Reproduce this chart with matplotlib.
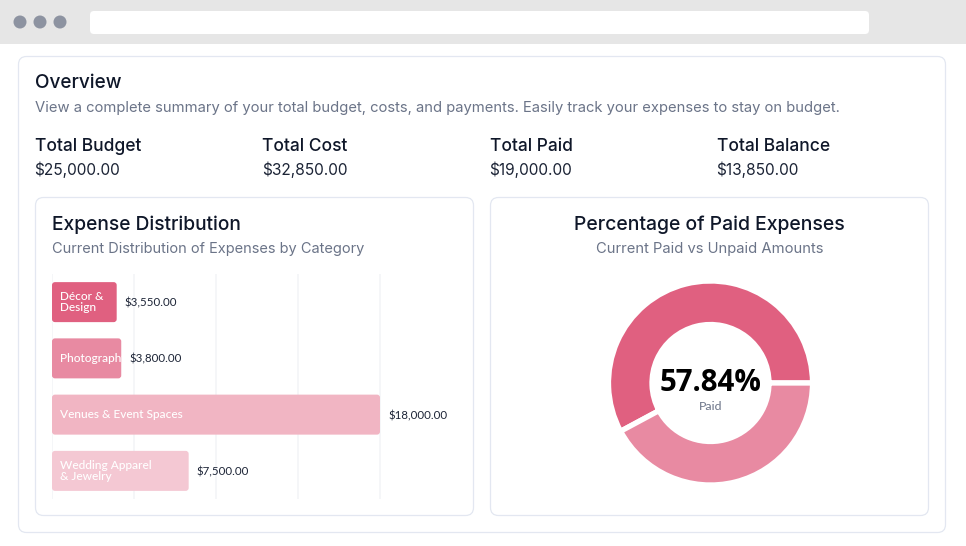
import matplotlib
matplotlib.use("Agg")
import matplotlib.pyplot as plt
from matplotlib.patches import FancyBboxPatch, Circle, Rectangle

plt.rcParams['font.family'] = ['Inter', 'DejaVu Sans']

# data
categories = ['Décor &\nDesign', 'Photography', 'Venues & Event Spaces', 'Wedding Apparel\n& Jewelry']
amounts = [3550, 3800, 18000, 7500]
amount_labels = ['$3,550.00', '$3,800.00', '$18,000.00', '$7,500.00']
bar_colors = ['#e06080', '#e88aa2', '#f1b5c3', '#f4c8d3']
grid_ticks = [0, 4500, 9000, 13500, 18000]

stat_names = ['Total Budget', 'Total Cost', 'Total Paid', 'Total Balance']
stat_values = ['$25,000.00', '$32,850.00', '$19,000.00', '$13,850.00']
stat_x = [35, 262.5, 490, 717]

donut_values = [19000, 13850]
donut_colors = ['#e06080', '#e88aa2']

W, H = 966, 546
DARK = '#0f1729'
GREY = '#6b7488'
BORDER = '#e3e7f1'

fig = plt.figure(figsize=(W / 100, H / 100), dpi=100)
bg = fig.add_axes([0, 0, 1, 1])
bg.set_xlim(0, W)
bg.set_ylim(H, 0)
bg.axis('off')


def card(x0, y0, x1, y1, r=8, fc='white', ec=BORDER, lw=0.9):
    p = FancyBboxPatch((x0, y0), x1 - x0, y1 - y0, boxstyle='round,pad=0,rounding_size=%g' % r,
                       fc=fc, ec=ec, lw=lw)
    bg.add_patch(p)


def px(size):
    return size * 0.72


# browser chrome
bg.add_patch(Rectangle((0, 0), W, 43.5, fc='#e6e6e6', ec='none'))
for cx in [20, 40, 60]:
    bg.add_patch(Circle((cx, 22), 6.5, fc='#8d93a1', ec='none'))
card(90, 11, 869, 34, r=4, ec='none')

card(18.5, 56.5, 945.5, 532.5)
card(35.5, 197.5, 473.5, 515.5)
card(490.5, 197.5, 928.5, 515.5)

bg.text(35, 83.5, 'Overview', fontsize=px(19), color=DARK, va='center', fontweight='medium')
bg.text(35, 108, 'View a complete summary of your total budget, costs, and payments. Easily track your expenses to stay on budget.',
        fontsize=px(14.8), color=GREY, va='center')
for x, name, val in zip(stat_x, stat_names, stat_values):
    bg.text(x, 146.5, name, fontsize=px(17.4), color=DARK, va='center', fontweight='medium')
    bg.text(x - 0.7, 169.5, val, fontsize=px(15.5), color='#1c2436', va='center')

bg.text(52, 224.5, 'Expense Distribution', fontsize=px(19.2), color=DARK, va='center', fontweight='medium')
bg.text(52, 249, 'Current Distribution of Expenses by Category', fontsize=px(14.6), color=GREY, va='center')
bg.text(709.5, 224.5, 'Percentage of Paid Expenses', fontsize=px(19.4), color=DARK, va='center', ha='center', fontweight='medium')
bg.text(709.5, 249, 'Current Paid vs Unpaid Amounts', fontsize=px(14.8), color=GREY, va='center', ha='center')

# bar chart, axes box spans 52..462 px across, 274..499 px down
ax = fig.add_axes([52 / W, 1 - 499 / H, 410 / W, 225 / H])
ax.set_xlim(0, 22500)
ax.set_ylim(3.5, -0.5)
ax.axis('off')
for t in grid_ticks:
    ax.plot([t, t], [-0.5, 3.5], color='#f5f6f8', lw=1.4, zorder=1)

xscale = 410 / 22500
yscale = 225 / 4
bar_h = 40 / yscale
for i, (cat, v, lab, c) in enumerate(zip(categories, amounts, amount_labels, bar_colors)):
    rect = FancyBboxPatch((0, i - bar_h / 2), v, bar_h,
                          boxstyle='round,pad=0,rounding_size=%g' % (3 / xscale),
                          mutation_aspect=xscale / yscale, fc=c, ec='none', zorder=2)
    ax.add_patch(rect)
    txt = ax.text(8 / xscale, i, cat, color='white', fontsize=px(11.9), va='center', ha='left',
                  linespacing=1.05, family=['Lato', 'DejaVu Sans'], fontweight='medium', zorder=3)
    txt.set_clip_path(rect)
    ax.text(v + 8 / xscale, i + 1 / yscale, lab, color='#1c2436', fontsize=px(11.5), va='center', ha='left',
            family=['Lato', 'DejaVu Sans'], zorder=3)

# donut, centre at 710,383 and outer radius 100 px
dx = fig.add_axes([(710.5 - 110) / W, 1 - (383 + 110) / H, 220 / W, 220 / H])
dx.pie(donut_values, colors=donut_colors, startangle=0, counterclock=True, radius=102 / 110,
       wedgeprops=dict(width=43.5 / 110, edgecolor='white', linewidth=3.8))
dx.set_xlim(-1, 1)
dx.set_ylim(-1, 1)
dx.text(0, 0.0, '57.84%', fontsize=px(29.5), fontweight='bold', color='black', ha='center', va='center',
        family=['Open Sans', 'DejaVu Sans'])
dx.text(0, -0.21, 'Paid', fontsize=px(12.4), color=GREY, ha='center', va='center',
        family=['Lato', 'DejaVu Sans'])

fig.savefig('out.png', dpi=100)
